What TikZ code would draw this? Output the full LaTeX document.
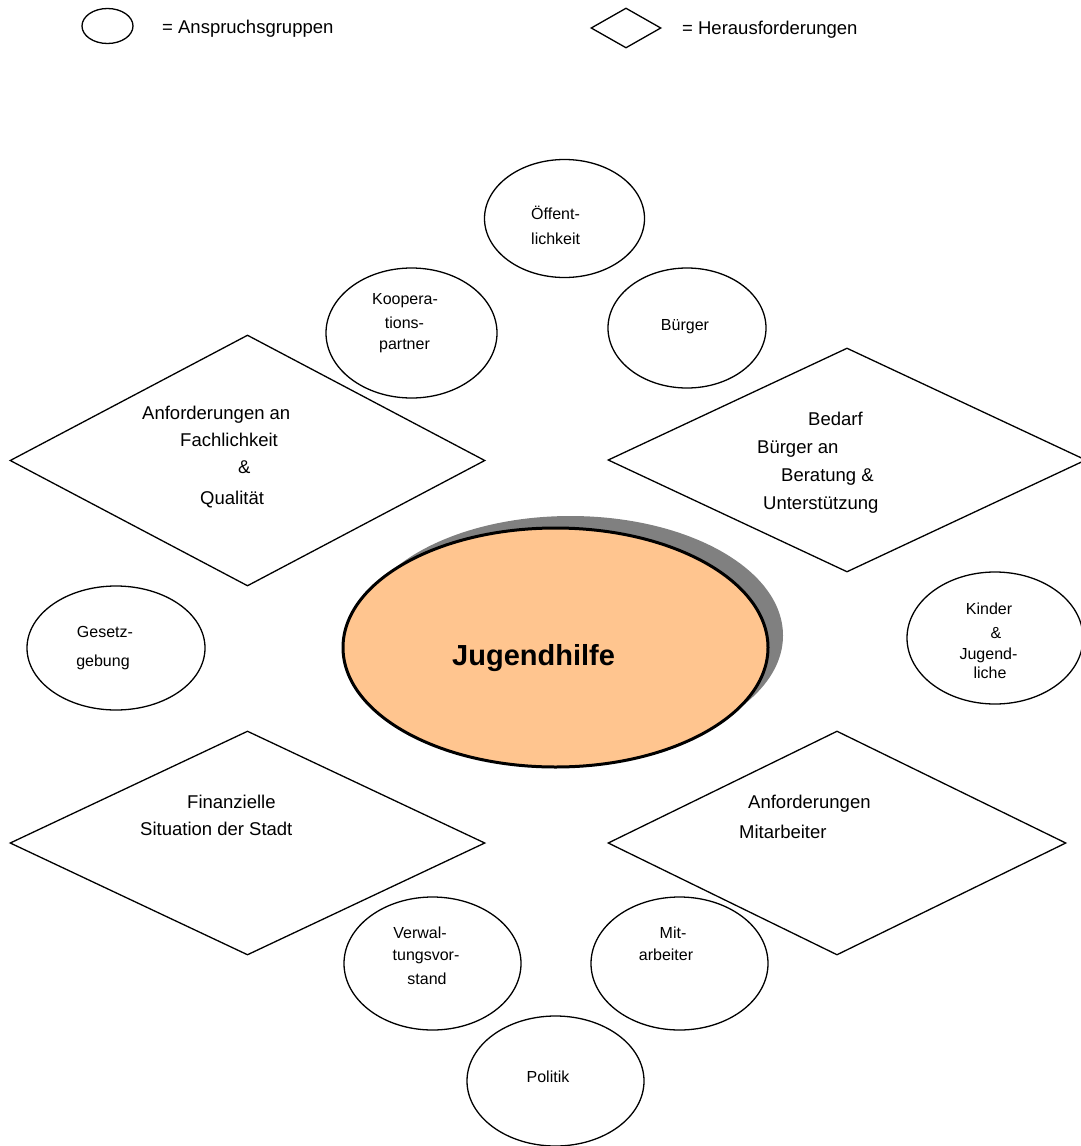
\documentclass[tikz,border=0pt]{standalone}
\usepackage{fontspec}
\setmainfont{Liberation Sans}
\usetikzlibrary{shapes.geometric}
\definecolor{hubfill}{HTML}{FFC58F}
\definecolor{hubshadow}{HTML}{808080}
\begin{document}
\begin{tikzpicture}[x=1pt,y=-1pt,
  grp/.style={ellipse, draw=black, line width=1.3pt, inner sep=0pt, fill=white},
  chl/.style={diamond, draw=black, line width=1.3pt, inner sep=0pt, fill=white},
  etxt/.style={font=\fontsize{16}{19}\selectfont, anchor=base, inner sep=0pt},
  etxtl/.style={font=\fontsize{16}{19}\selectfont, anchor=base west, inner sep=0pt},
  dtxt/.style={font=\fontsize{18.5}{22}\selectfont, anchor=base west, inner sep=0pt},
  dtxtc/.style={font=\fontsize{18.5}{22}\selectfont, anchor=base, inner sep=0pt}]
\useasboundingbox (0,0) rectangle (1081,1146);

% legend
\node[grp, minimum width=51, minimum height=35] (legE) at (107.5,26) {};
\node[dtxt] (legEt) at (162,33.5) {= Anspruchsgruppen};
\node[chl, minimum width=70, minimum height=40] (legD) at (626,28) {};
\node[dtxt] (legDt) at (682,34) {= Herausforderungen};

% challenges (diamonds)
\node[chl, minimum width=475, minimum height=251] (dQual) at (247.5,460.5) {};
\node[chl, minimum width=478, minimum height=224] (dBed) at (847,460) {};
\node[chl, minimum width=475, minimum height=224] (dFin) at (247.5,843) {};
\node[chl, minimum width=458, minimum height=224] (dMit) at (837,843) {};

% stakeholder groups (ellipses)
\node[grp, minimum width=160, minimum height=118] (eOeff) at (564.5,218.5) {};
\node[grp, minimum width=171, minimum height=130] (eKoop) at (411.5,333) {};
\node[grp, minimum width=158, minimum height=120] (eBuer) at (687,328) {};
\node[grp, minimum width=178, minimum height=124] (eGes) at (116,648) {};
\node[grp, minimum width=176, minimum height=132] (eKind) at (995,638) {};
\node[grp, minimum width=177, minimum height=133] (eVerw) at (432.5,963.5) {};
\node[grp, minimum width=177, minimum height=133] (eMit) at (679.5,963.5) {};
\node[grp, minimum width=177, minimum height=130] (ePol) at (555.5,1081) {};

% central node with shadow
\node[ellipse, fill=hubshadow, inner sep=0pt, minimum width=425, minimum height=239] (hubS) at (570.5,635.5) {};
\node[ellipse, draw=black, line width=3pt, fill=hubfill, inner sep=0pt, minimum width=425, minimum height=239] (hub) at (555.5,647.5) {};
\node[font=\bfseries\fontsize{29}{34}\selectfont, anchor=base west, inner sep=0pt] (hubT) at (452,665.5) {Jugendhilfe};

% diamond texts
\node[dtxt] (q1) at (142,419.5) {Anforderungen an};
\node[dtxt] (q2) at (180,446.5) {Fachlichkeit};
\node[dtxt] (q3) at (238,473.5) {\&};
\node[dtxt] (q4) at (200,504.5) {Qualität};

\node[dtxt] (b1) at (808,425.5) {Bedarf};
\node[dtxt] (b2) at (757,453.5) {Bürger an};
\node[dtxt] (b3) at (781,481.5) {Beratung \&};
\node[dtxt] (b4) at (763,509.5) {Unterstützung};

\node[dtxt] (f1) at (187,808.5) {Finanzielle};
\node[dtxt] (f2) at (140,835.5) {Situation der Stadt};

\node[dtxt] (m1) at (748,808.5) {Anforderungen};
\node[dtxt] (m2) at (739,838.5) {Mitarbeiter};

% ellipse texts
\node[etxtl] (o1) at (531,219) {Öffent-};
\node[etxtl] (o2) at (531,244) {lichkeit};

\node[etxt] (k1) at (405,304) {Koopera-};
\node[etxt] (k2) at (404.5,328) {tions-};
\node[etxt] (k3) at (404.5,349) {partner};

\node[etxt] (bu) at (685,330) {Bürger};

\node[etxt] (g1) at (105,637) {Gesetz-};
\node[etxt] (g2) at (103,666) {gebung};

\node[etxt] (j1) at (989,614) {Kinder};
\node[etxt] (j2) at (996,638) {\&};
\node[etxt] (j3) at (988.5,659) {Jugend-};
\node[etxt] (j4) at (990,678) {liche};

\node[etxt] (v1) at (420,938) {Verwal-};
\node[etxt] (v2) at (426,960) {tungsvor-};
\node[etxt] (v3) at (427,984) {stand};

\node[etxt] (ma1) at (673,938) {Mit-};
\node[etxt] (ma2) at (666,960) {arbeiter};

\node[etxt] (p1) at (548,1082) {Politik};
\end{tikzpicture}
\end{document}
